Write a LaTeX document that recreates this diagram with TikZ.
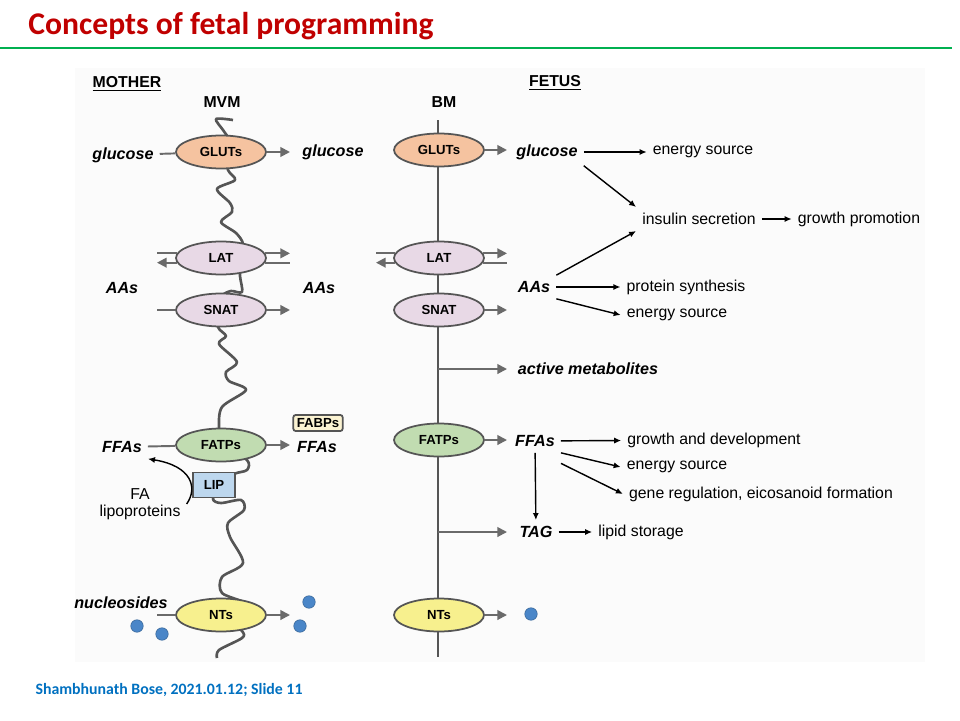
\documentclass[tikz,border=0pt]{standalone}
\usepackage{fontspec}
\setmainfont{Liberation Sans}
\newfontfamily\slidefont{Carlito}
\usetikzlibrary{arrows.meta,shapes.geometric}
\definecolor{titlered}{HTML}{C00000}
\definecolor{rulegreen}{HTML}{00B050}
\definecolor{footblue}{HTML}{0070C0}
\definecolor{memgray}{HTML}{555555}
\definecolor{arrgray}{HTML}{6A6A6A}
\definecolor{glutfill}{HTML}{F5C3A0}
\definecolor{aafill}{HTML}{E8D9E6}
\definecolor{fatfill}{HTML}{C1DCB1}
\definecolor{ntfill}{HTML}{F7F08E}
\definecolor{lipfill}{HTML}{BDD7EE}
\definecolor{fabfill}{HTML}{FBF3D2}
\definecolor{dotblue}{HTML}{4A86C8}
\tikzset{
  trans/.style={ellipse,draw=memgray,line width=1pt,minimum width=1.8cm,
    minimum height=0.66cm,inner sep=0pt,font=\bfseries\fontsize{7.5}{9}\selectfont},
  tag/.style={draw=memgray,line width=1pt,inner sep=2pt,font=\bfseries\fontsize{7.5}{9}\selectfont},
  sub/.style={font=\bfseries\itshape\fontsize{9.2}{11}\selectfont},
  txt/.style={font=\fontsize{9}{10}\selectfont},
  head/.style={font=\bfseries\fontsize{9}{11}\selectfont},
  mem/.style={draw=memgray,line width=1.5pt},
  tline/.style={draw=arrgray,line width=1.1pt},
  tarrow/.style={tline,-{Triangle[length=5.5pt,width=5.5pt]}},
  barrow/.style={draw=black,line width=0.8pt,-{Latex[length=4pt,width=3.5pt]}},
  dot/.style={circle,fill=dotblue,draw=dotblue!75!black,line width=0.3pt,minimum size=0.25cm,inner sep=0pt}
}
\begin{document}
\begin{tikzpicture}[x=0.02cm,y=-0.02cm]
\useasboundingbox (0,0) rectangle (960,720);
\fill[black!1.5] (75,68) rectangle (925,662);

% slide frame
\node[font=\slidefont\bfseries\fontsize{18}{20}\selectfont,text=titlered] (title) at (231,26) {Concepts of fetal programming};
\draw[rulegreen,line width=1.7pt] (0,48) -- (952,48);
\node[font=\slidefont\bfseries\fontsize{9}{11}\selectfont,text=footblue] (foot) at (169,690) {Shambhunath Bose, 2021.01.12; Slide 11};

% headings
\node[head] (mother) at (127,84) {\underline{MOTHER}};
\node[head] (fetus) at (555,83) {\underline{FETUS}};
\node[head] (mvm) at (222,102) {MVM};
\node[head] (bm) at (444,102) {BM};

% membranes
\draw[mem,line join=round] plot[smooth] coordinates {(233,120) (216,119) (223,130) (229,140)
  (226,152) (228,170) (235,180) (217,189) (230,203) (232,212) (221,222) (236,233) (243,244)
  (240,260) (240,276) (242,292) (231,291) (222,296) (220,310) (218,327) (226,336) (219,344)
  (237,362) (226,372) (229,381) (246,390) (222,407) (219,428) (222,445) (247,460) (247,470)
  (234,474) (220,485) (213,499) (221,503) (241,500) (244,510) (228,523) (230,537) (243,563)
  (222,577) (222,593) (246,604) (225,615) (242,631) (242,638) (219,650) (217,658)};
\coordinate (bmTop) at (438,120);
\coordinate (bmBot) at (438,657);
\draw[mem] (bmTop) -- (bmBot);

% column edges for the short transport lines
\coordinate (mL) at (157,0);
\coordinate (mR) at (290,0);
\coordinate (fL) at (376,0);
\coordinate (fR) at (507,0);

% transporters
\node[trans,fill=glutfill] (glutM) at (221,152) {GLUTs};
\node[trans,fill=aafill] (latM) at (221,258) {LAT};
\node[trans,fill=aafill] (snatM) at (221,310) {SNAT};
\node[trans,fill=fatfill] (fatpM) at (221,445) {FATPs};
\node[trans,fill=ntfill] (ntM) at (221,615) {NTs};
\node[trans,fill=glutfill] (glutF) at (439,150) {GLUTs};
\node[trans,fill=aafill] (latF) at (439,258) {LAT};
\node[trans,fill=aafill] (snatF) at (439,310) {SNAT};
\node[trans,fill=fatfill] (fatpF) at (439,440) {FATPs};
\node[trans,fill=ntfill] (ntF) at (439,615) {NTs};
\node[tag,fill=lipfill,minimum width=0.84cm,minimum height=0.5cm] (lip) at (214,485) {LIP};
\node[tag,fill=fabfill,rounded corners=1.5pt] (fabp) at (318,423) {FABPs};

% mother side
\node[sub] (glucA) at (123,155) {glucose};
\node[sub] (glucB) at (333,152) {glucose};
\node[sub] (aaA) at (122,288) {AAs};
\node[sub] (aaB) at (319,288) {AAs};
\node[sub] (ffaA) at (122,447) {FFAs};
\node[sub] (ffaB) at (317,447) {FFAs};
\node[txt,align=center] (falip) at (140,504) {FA\\lipoproteins};
\node[sub] (nucA) at (121,603) {nucleosides};
\node[dot] (d1) at (137,626) {};
\node[dot] (d2) at (162,634) {};
\node[dot] (d3) at (309,602) {};
\node[dot] (d4) at (300,626) {};

\draw[tline] (glucA) -- (glutM);
\draw[tarrow] (glutM) -- (glutM -| mR);
\draw[tline] (latM.174) -- (latM.174 -| mL);
\draw[tarrow] (latM.186) -- (latM.186 -| mL);
\draw[tarrow] (latM.6) -- (latM.6 -| mR);
\draw[tline] (latM.354) -- (latM.354 -| mR);
\draw[tline] (snatM -| mL) -- (snatM);
\draw[tarrow] (snatM) -- (snatM -| mR);
\draw[tline] (ffaA) -- (fatpM);
\draw[tarrow] (fatpM) -- (fatpM -| mR);
\draw[tline] (ntM -| mL) -- (ntM);
\draw[tarrow] (ntM) -- (ntM -| mR);
\draw[barrow] (falip.east) .. controls (198,488) and (192,466) .. (ffaA.south east);

% fetus side
\draw[tline] (latF.174) -- (latF.174 -| fL);
\draw[tarrow] (latF.186) -- (latF.186 -| fL);
\draw[tarrow] (latF.6) -- (latF.6 -| fR);
\draw[tline] (latF.354) -- (latF.354 -| fR);
\draw[tarrow] (glutF) -- (glutF -| fR);
\draw[tarrow] (snatF) -- (snatF -| fR);
\draw[tarrow] (fatpF) -- (fatpF -| fR);
\draw[tarrow] (ntF) -- (ntF -| fR);

\node[sub] (glucF) at (547,152) {glucose};
\node[txt] (en1) at (703,152) {energy source};
\node[txt] (ins) at (699,219) {insulin secretion};
\node[txt] (grow) at (859,219) {growth promotion};
\node[sub] (aaF) at (534,287) {AAs};
\node[txt] (prot) at (686,287) {protein synthesis};
\node[txt] (en2) at (677,315) {energy source};
\node[sub] (act) at (588,369) {active metabolites};
\node[sub] (ffaF) at (535,441) {FFAs};
\node[txt] (gd) at (714,440) {growth and development};
\node[txt] (en3) at (677,467) {energy source};
\node[txt] (gene) at (761,494) {gene regulation, eicosanoid formation};
\node[sub] (tagF) at (536,532) {TAG};
\node[txt] (lips) at (641,532) {lipid storage};
\node[dot] (d5) at (531,614) {};

\draw[tarrow] (act -| bmTop) -- (act -| fR);
\draw[tarrow] (tagF -| bmTop) -- (tagF -| fR);
\draw[barrow] (glucF) -- (en1);
\draw[barrow] (glucF.south east) -- (ins.north west);
\draw[barrow] (ins) -- (grow);
\draw[barrow] (aaF.north east) -- (ins.south west);
\draw[barrow] (aaF) -- (prot);
\draw[barrow] (aaF.south east) -- (en2.west);
\draw[barrow] (ffaF) -- (gd);
\draw[barrow] (ffaF.south east) -- (en3.west);
\draw[barrow] ([yshift=-6]ffaF.south east) -- (gene.west);
\draw[barrow] (ffaF) -- (tagF);
\draw[barrow] (tagF) -- (lips);
\end{tikzpicture}
\end{document}
